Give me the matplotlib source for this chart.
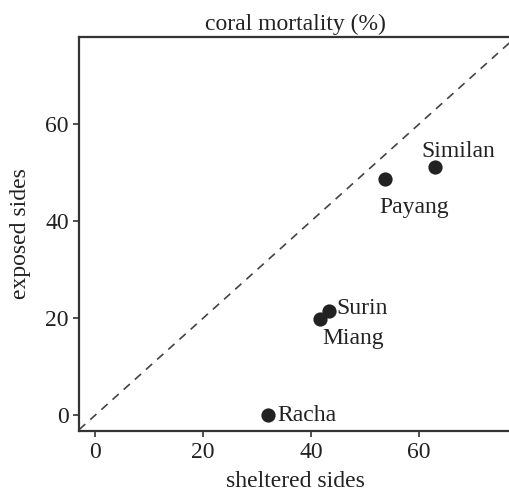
import matplotlib.pyplot as plt

plt.rcParams['font.family'] = ['Liberation Serif', 'DejaVu Serif']
plt.rcParams['mathtext.fontset'] = 'stix'

sites = ['Racha', 'Surin', 'Miang', 'Payang', 'Similan']
sheltered = [32, 43.3, 41.6, 53.7, 62.9]
exposed = [0, 21.4, 19.9, 48.6, 51.1]

# label placement (offset points, alignment)
offsets = [(7, 0), (5.5, 2), (1.5, -14), (21, -20), (17, 11)]
aligns = ['left', 'left', 'left', 'center', 'center']

ink = '#222222'
fs = 17
fig = plt.figure(figsize=(5.1, 4.95), dpi=100)
ax = fig.add_axes([0.155, 0.129, 0.85, 0.797])

ax.axline((0, 0), slope=1, color='#444444', lw=1.2, dashes=(5, 4), zorder=1)
ax.scatter(sheltered, exposed, s=105, color=ink, zorder=3, linewidths=0)

for name, x, y, off, ha in zip(sites, sheltered, exposed, offsets, aligns):
    ax.annotate(name, (x, y), xytext=off, textcoords='offset points',
                ha=ha, va='center', fontsize=fs, color=ink)

ax.set_xlim(-3, 77.3)
ax.set_ylim(-3.3, 78)
ax.set_xticks([0, 20, 40, 60])
ax.set_yticks([0, 20, 40, 60])

for side in ['left', 'bottom', 'top']:
    ax.spines[side].set_linewidth(1.6)
    ax.spines[side].set_color('#333333')
ax.spines['right'].set_visible(False)

ax.tick_params(length=4, width=1.2, color='#333333', labelsize=fs,
               labelcolor=ink, pad=3.5)

ax.set_xlabel('sheltered sides', fontsize=fs, color=ink, labelpad=6)
ax.set_ylabel('exposed sides', fontsize=fs, color=ink, labelpad=10)
ax.set_title('coral mortality (%)', fontsize=fs, color=ink, pad=5)

fig.savefig('out.png', dpi=100)
